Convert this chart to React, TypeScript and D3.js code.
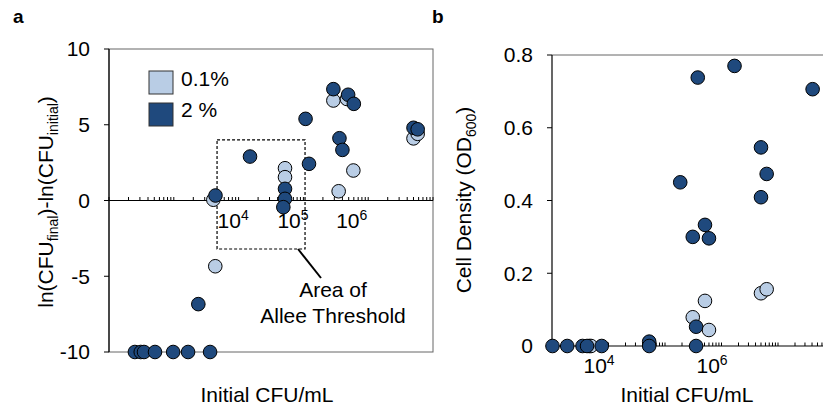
import React from 'react';
import * as d3 from 'd3';

// panel a: growth ratio vs initial CFU
const aLight: [number, number][] = [
  [4365, -4.34], [4074, 0.05], [52000, 2.13], [52000, 1.54],
  [2.9e5, 6.6], [4.7e5, 6.7], [5.9e5, 1.98], [3.5e5, 0.61],
  [5.0e6, 4.1], [5.8e6, 4.4],
];
const aDark: [number, number][] = [
  [251, -10], [309, -10], [347, -10], [513, -10], [977, -10], [1660, -10], [3630, -10],
  [2390, -6.84], [4400, 0.33], [15000, 2.9],
  [52000, 0.77], [52000, 0.11], [49000, -0.44],
  [1.08e5, 5.39], [1.22e5, 2.42],
  [2.9e5, 7.35], [4.9e5, 6.98], [6.0e5, 6.38], [3.6e5, 4.11], [4.0e5, 3.34],
  [5.0e6, 4.8], [5.8e6, 4.7],
];

// panel b: OD600 vs initial CFU
const bLight: [number, number][] = [
  [4570, 0], [4900, 0],
  [3.1e5, 0.079], [6.0e5, 0.044], [5.1e5, 0.124],
  [5.0e6, 0.145], [6.3e6, 0.156],
];
const bDark: [number, number][] = [
  [1020, 0], [1860, 0], [3470, 0], [4170, 0], [7590, 0],
  [52500, 0.012], [52500, 0],
  [3.55e5, 0], [3.55e5, 0.053],
  [3.1e5, 0.30], [5.1e5, 0.333], [6.0e5, 0.296], [1.86e5, 0.45],
  [3.8e5, 0.738], [1.7e6, 0.77], [4.1e7, 0.706],
  [5.0e6, 0.546], [6.3e6, 0.473], [5.0e6, 0.409],
];

const aYTicks = [-10, -5, 0, 5, 10];
const bYTicks = [0, 0.2, 0.4, 0.6, 0.8];
const aDecadeLabels = [4, 5, 6];
const aDecadeShift = [-21, -26, -32];
const bDecadeLabels = [4, 6];
const bDecadeShift = [-25, -25];
const legendItems = ['0.1%', '2 %'];

const LIGHT = '#B9CDE5';
const DARK = '#1F497D';
const FONT = '"Liberation Sans", Arial, sans-serif';
const FS = 21;
const R = 6.8;

export default function App() {
  const xA = d3.scaleLog().domain([1e2, 1e7]).range([109, 433]);
  const yA = d3.scaleLinear().domain([-10, 10]).range([352, 49]);
  const xB = d3.scaleLog().domain([1e3, 1e8]).range([552, 834.5]);
  const yB = d3.scaleLinear().domain([0, 0.8]).range([346, 55]);

  const dots = (pts: [number, number][], fill: string, x: any, y: any) =>
    pts.map((d, i) => (
      <circle key={fill + i} cx={x(d[0])} cy={y(d[1])} r={R} fill={fill} stroke="#000" strokeWidth={1} />
    ));

  const y0 = yA(0);
  const yb0 = yB(0);

  return (
    <svg width={823} height={409} style={{ position: 'absolute', left: 0, top: 0 }} fontFamily={FONT}>
      <rect width={823} height={409} fill="#fff" />

      {/* ---------- panel a ---------- */}
      <text x={13} y={23} fontSize={19} fontWeight="bold">a</text>
      <rect x={109} y={49} width={324} height={303} fill="none" stroke="#666" strokeWidth={1} />
      <line x1={109} x2={109} y1={49} y2={352} stroke="#000" strokeWidth={1.2} />
      {aYTicks.map(t => (
        <g key={t}>
          <line x1={104} x2={109} y1={yA(t)} y2={yA(t)} stroke="#000" />
          <text x={90} y={yA(t)} dy="0.35em" textAnchor="end" fontSize={FS}>{t}</text>
        </g>
      ))}
      <line x1={109} x2={433} y1={y0} y2={y0} stroke="#000" strokeWidth={1.2} />
      {xA.ticks().map((t, i) => (
        <line key={i} x1={xA(t)} x2={xA(t)} y1={y0} y2={y0 - 3.5} stroke="#000" />
      ))}
      {aDecadeLabels.map((p, i) => (
        <text key={p} x={xA(Math.pow(10, p)) + aDecadeShift[i]} y={228} fontSize={FS}>
          10<tspan dy={-8} fontSize={14}>{p}</tspan>
        </text>
      ))}

      {/* allee threshold box */}
      <rect x={xA(4650)} y={yA(4)} width={xA(1.06e5) - xA(4650)} height={yA(-3.2) - yA(4)}
        fill="none" stroke="#000" strokeWidth={1.2} strokeDasharray="3,2" />
      <line x1={298} y1={249} x2={321} y2={278} stroke="#000" strokeWidth={2} />
      <text x={333} y={297} textAnchor="middle" fontSize={FS}>Area of</text>
      <text x={333} y={323} textAnchor="middle" fontSize={FS}>Allee Threshold</text>

      {dots(aLight, LIGHT, xA, yA)}
      {dots(aDark, DARK, xA, yA)}

      {/* legend */}
      {legendItems.map((l, i) => (
        <g key={l}>
          <rect x={149} y={71 + i * 32} width={24} height={23} fill={i === 0 ? LIGHT : DARK} stroke="#333" strokeWidth={1} />
          <text x={181} y={86 + i * 31} fontSize={FS}>{l}</text>
        </g>
      ))}

      <text transform="translate(53,202) rotate(-90)" textAnchor="middle" fontSize={FS}>
        ln(CFU<tspan fontSize={14} dy={5}>final</tspan><tspan dy={-5}>)-ln(CFU</tspan>
        <tspan fontSize={14} dy={5}>initial</tspan><tspan dy={-5}>)</tspan>
      </text>
      <text x={267} y={402} textAnchor="middle" fontSize={FS}>Initial CFU/mL</text>

      {/* ---------- panel b ---------- */}
      <text x={432} y={23} fontSize={19} fontWeight="bold">b</text>
      <line x1={552} x2={823} y1={55} y2={55} stroke="#666" />
      <line x1={552} x2={552} y1={55} y2={yb0} stroke="#000" strokeWidth={1.2} />
      {bYTicks.map(t => (
        <g key={t}>
          <line x1={547} x2={552} y1={yB(t)} y2={yB(t)} stroke="#000" />
          <text x={533} y={yB(t)} dy="0.35em" textAnchor="end" fontSize={FS}>{t}</text>
        </g>
      ))}
      <line x1={552} x2={823} y1={yb0} y2={yb0} stroke="#000" strokeWidth={1.2} />
      {xB.ticks().map((t, i) => (
        <line key={i} x1={xB(t)} x2={xB(t)} y1={yb0} y2={yb0 - 3.5} stroke="#000" />
      ))}
      {bDecadeLabels.map((p, i) => (
        <text key={p} x={xB(Math.pow(10, p)) + bDecadeShift[i]} y={373} fontSize={FS}>
          10<tspan dy={-8} fontSize={14}>{p}</tspan>
        </text>
      ))}

      {dots(bLight, LIGHT, xB, yB)}
      {dots(bDark, DARK, xB, yB)}

      <text transform="translate(471,200) rotate(-90)" textAnchor="middle" fontSize={FS}>
        Cell Density (OD<tspan fontSize={14} dy={5}>600</tspan><tspan dy={-5}>)</tspan>
      </text>
      <text x={687} y={402} textAnchor="middle" fontSize={FS}>Initial CFU/mL</text>
    </svg>
  );
}
